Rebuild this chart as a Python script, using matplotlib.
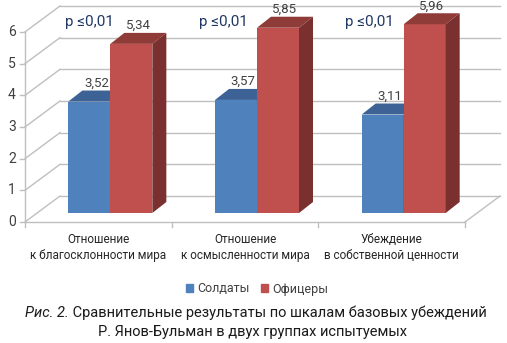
import matplotlib.pyplot as plt
from matplotlib.patches import Polygon, Patch

categories = ['Отношение\nк благосклонности мира',
              'Отношение\nк осмысленности мира',
              'Убеждение\nв собственной ценности']
soldiers = [3.52, 3.57, 3.11]
officers = [5.34, 5.85, 5.96]
p_labels = ['p \u22640,01', 'p \u22640,01', 'p \u22640,01']
yticks = [0, 1, 2, 3, 4, 5, 6]

W, H = 507, 343
fig = plt.figure(figsize=(W / 100, H / 100), dpi=100)
ax = fig.add_axes([0, 0, 1, 1])
ax.axis('off')

# pixel geometry of the front floor edge / value scale
x0, px_cat = 25, 146.67
y0, px_val = 121, 31.67
ax.set_xlim(-x0 / px_cat, (W - x0) / px_cat)
ax.set_ylim(-y0 / px_val, (H - y0) / px_val)

# depth of the box, offsets of the bars, bar depth (data units)
Dx, Dy = 35 / px_cat, 26 / px_val
ox, oy = 12 / px_cat, 9 / px_val
bdx, bdy = 14 / px_cat, 11 / px_val
bw = 42 / px_cat
n = len(categories)

grid = '#bfbfbf'
txt = '#404040'
ymax = yticks[-1]

# walls and floor
ax.plot([0, 0], [0, ymax], color=grid, lw=1)
for v in yticks:
    ax.plot([0, Dx], [v, v + Dy], color=grid, lw=1)
    ax.plot([Dx, n + Dx], [v + Dy, v + Dy], color=grid, lw=1)
    ax.plot([-5 / px_cat, 0], [v, v], color=grid, lw=1)
    ax.text(-13 / px_cat, v, str(v), ha='center', va='center',
            fontsize=10, color=txt, family='Roboto')
ax.plot([0, n], [0, 0], color=grid, lw=1)
ax.plot([n, n + Dx], [0, Dy], color=grid, lw=1)
for i in range(n + 1):
    ax.plot([i, i], [0, -5 / px_val], color=grid, lw=1)


def bar3d(xl, val, front, top, side):
    ax.bar(xl, val, width=bw, bottom=oy, align='edge', color=front, lw=0, zorder=3)
    xr = xl + bw
    ax.add_patch(Polygon([(xl, val + oy), (xr, val + oy), (xr + bdx, val + oy + bdy),
                          (xl + bdx, val + oy + bdy)], closed=True, color=top, lw=0, zorder=3))
    ax.add_patch(Polygon([(xr, oy), (xr + bdx, oy + bdy), (xr + bdx, val + oy + bdy),
                          (xr, val + oy)], closed=True, color=side, lw=0, zorder=3))


for i in range(n):
    c = i + 0.5 + ox
    bar3d(c - bw, soldiers[i], '#4f81bd', '#3d6396', '#36598a')
    bar3d(c, officers[i], '#c0504d', '#8f3c39', '#7a302e')
    ax.text(c - bw / 2 + bdx / 2, soldiers[i] + oy + bdy + 0.03, f'{soldiers[i]:.2f}'.replace('.', ','),
            ha='center', va='bottom', fontsize=9.5, color=txt, family='Roboto', zorder=4)
    ax.text(c + bw / 2 + bdx / 2, officers[i] + oy + bdy + 0.03, f'{officers[i]:.2f}'.replace('.', ','),
            ha='center', va='bottom', fontsize=9.5, color=txt, family='Roboto', zorder=4)
    ax.text(i + 0.5 + [-9, -22, -22][i] / px_cat, 6.3, p_labels[i], ha='center', va='center',
            fontsize=11, color='#1f3864', family='Roboto', zorder=4)
    ax.text(i + 0.5, -11 / px_val, categories[i], ha='center', va='top',
            fontsize=8.5, color='#262626', family='Roboto', linespacing=1.3)

handles = [Patch(color='#4f81bd', label='Солдаты'), Patch(color='#c0504d', label='Офицеры')]
fig.legend(handles=handles, loc='center', bbox_to_anchor=(257 / W, 1 - 289 / H), ncol=2,
           frameon=False, handlelength=0.6, handleheight=0.6, handletextpad=0.3,
           columnspacing=0.9, labelcolor=txt, prop={'family': 'Roboto', 'size': 9})

cap1 = fig.text(25 / W, 1 - 313 / H, 'Рис. 2.', ha='left', va='center', fontsize=10.5,
                style='italic', family='Roboto', color='#1a1a1a')
ax.annotate(' Сравнительные результаты по шкалам базовых убеждений', xy=(1, 0.5),
            xycoords=cap1, va='center', ha='left', fontsize=10.5, family='Roboto', color='#1a1a1a')
fig.text(252 / W, 1 - 332 / H, 'Р. Янов-Бульман в двух группах испытуемых', ha='center',
         va='center', fontsize=10.5, family='Roboto', color='#1a1a1a')

fig.savefig('out.png', dpi=100)
